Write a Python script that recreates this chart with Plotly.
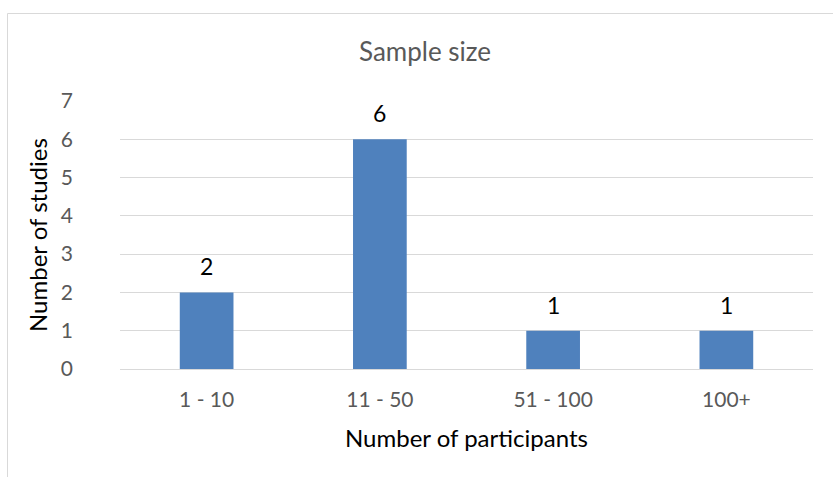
import plotly.graph_objects as go

categories = ["1 - 10", "11 - 50", "51 - 100", "100+"]
studies = [2, 6, 1, 1]
y_ticks = [0, 1, 2, 3, 4, 5, 6, 7]

W, H = 833, 477
L, R, T, B = 120, 20, 101, 108
pw, ph = W - L - R, H - T - B
FONT = "Lato, Carlito, sans-serif"

def px_x(px):
    return (px - L) / pw

def px_y(py):
    return (H - B - py) / ph

fig = go.Figure()
fig.add_trace(go.Bar(
    x=categories, y=studies,
    marker=dict(color="#4F81BD", line=dict(width=0)),
    width=0.31,
    hoverinfo="skip",
))

annotations = [
    dict(x=c, y=v, xref="x", yref="y", text=str(v), showarrow=False,
         yshift=26, yanchor="middle",
         font=dict(family=FONT, size=23, color="#000000"))
    for c, v in zip(categories, studies)
]
annotations += [
    dict(x=px_x(466), y=px_y(437), xref="paper", yref="paper", text="Number of participants",
         showarrow=False, xanchor="center", yanchor="middle",
         font=dict(family=FONT, size=24, color="#000000")),
    dict(x=px_x(37), y=px_y(235), xref="paper", yref="paper", text="Number of studies",
         showarrow=False, xanchor="center", yanchor="middle", textangle=-90,
         font=dict(family=FONT, size=24, color="#000000")),
]

fig.update_layout(
    width=W, height=H,
    margin=dict(l=L, r=R, t=T, b=B, pad=0),
    paper_bgcolor="white", plot_bgcolor="white",
    showlegend=False,
    title=dict(text="Sample size", x=px_x(425), xanchor="center", xref="paper",
               y=1 - 52 / H, yanchor="middle",
               font=dict(family=FONT, size=26, color="#595959")),
    xaxis=dict(
        showgrid=False, showline=False, ticks="", zeroline=False,
        ticklabelstandoff=16,
        tickfont=dict(family=FONT, size=21, color="#595959"),
    ),
    yaxis=dict(
        range=[0, 7], tickvals=y_ticks, showgrid=True, gridcolor="#D9D9D9", gridwidth=1,
        zeroline=True, zerolinecolor="#D9D9D9", zerolinewidth=1, showline=False, ticks="",
        ticklabelstandoff=46,
        tickfont=dict(family=FONT, size=21, color="#595959"),
    ),
    annotations=annotations,
    shapes=[
        dict(type="path", xref="paper", yref="paper",
             path=f"M {px_x(7.5)} {px_y(480)} L {px_x(7.5)} {px_y(13.5)} L {px_x(840)} {px_y(13.5)}",
             line=dict(color="#D9D9D9", width=1)),
    ],
)

fig.write_html("out.html", config={"displayModeBar": False},
               post_script="document.body.style.margin='0';document.body.style.padding='0';")
